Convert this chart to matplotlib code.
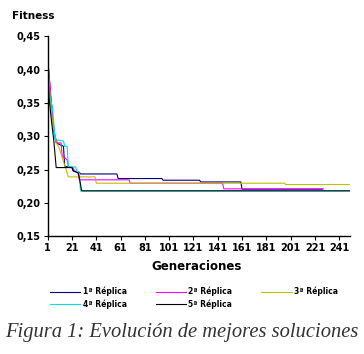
import matplotlib.pyplot as plt
from matplotlib.ticker import FuncFormatter

# generation at which each reading was taken, and the best fitness there
gen_r1 = [1, 2, 4, 6, 8, 14, 15, 21, 22, 27, 28, 58, 59, 95, 96, 126, 127, 160, 161, 227]
fit_r1 = [0.418, 0.395, 0.345, 0.31, 0.29, 0.285, 0.255, 0.253, 0.248, 0.246, 0.2434,
          0.2434, 0.2365, 0.2365, 0.234, 0.234, 0.2314, 0.2314, 0.2205, 0.2205]

gen_r2 = [1, 3, 5, 7, 9, 12, 13, 17, 18, 22, 23, 26, 27, 68, 69, 145, 146, 228]
fit_r2 = [0.415, 0.375, 0.33, 0.30, 0.29, 0.29, 0.27, 0.265, 0.255, 0.253, 0.248,
          0.246, 0.2346, 0.2346, 0.2295, 0.2295, 0.221, 0.221]

gen_r3 = [1, 3, 5, 8, 10, 14, 18, 40, 41, 196, 197, 250]
fit_r3 = [0.40, 0.36, 0.32, 0.29, 0.285, 0.262, 0.239, 0.239, 0.2295, 0.2295, 0.2275, 0.2275]

gen_r4 = [1, 3, 5, 7, 14, 15, 17, 18, 24, 25, 27, 28, 250]
fit_r4 = [0.41, 0.355, 0.345, 0.295, 0.293, 0.285, 0.285, 0.254, 0.254, 0.248, 0.245, 0.218, 0.218]

gen_r5 = [1, 2, 4, 6, 8, 21, 22, 26, 27, 29, 250]
fit_r5 = [0.41, 0.36, 0.325, 0.294, 0.253, 0.253, 0.248, 0.245, 0.238, 0.218, 0.218]

labels = ['1ª Réplica', '2ª Réplica', '3ª Réplica', '4ª Réplica', '5ª Réplica']
colors = ['#000080', '#FF00FF', '#C0C000', '#00E0E0', '#000000']
x_ticks = list(range(1, 242, 20))
y_ticks = [0.15, 0.20, 0.25, 0.30, 0.35, 0.40, 0.45]

fig = plt.figure(figsize=(3.64, 3.54), dpi=100)
ax = fig.add_axes([0.131, 0.333, 0.831, 0.564])

series = [(gen_r1, fit_r1), (gen_r2, fit_r2), (gen_r3, fit_r3),
          (gen_r4, fit_r4), (gen_r5, fit_r5)]
handles = []
for (g, f), lab, c in zip(series, labels, colors):
    h, = ax.plot(g, f, color=c, lw=0.8, label=lab)
    handles.append(h)

ax.set_xlim(1, 250)
ax.set_ylim(0.15, 0.45)
ax.set_xticks(x_ticks)
ax.set_yticks(y_ticks)
ax.yaxis.set_major_formatter(FuncFormatter(lambda v, p: f'{v:.2f}'.replace('.', ',')))
for s in ['top', 'right']:
    ax.spines[s].set_visible(False)
for s in ['left', 'bottom']:
    ax.spines[s].set_linewidth(1.0)
ax.tick_params(direction='out', length=3, width=0.8, labelsize=7, pad=2)
for t in ax.get_xticklabels() + ax.get_yticklabels():
    t.set_fontweight('bold')

fig.text(12 / 364, 1 - 16 / 354, 'Fitness', fontsize=7.5, fontweight='bold', va='center')
fig.text(197 / 364, 1 - 266 / 354, 'Generaciones', fontsize=8.5, fontweight='bold',
         ha='center', va='center')

# reorder so the legend fills row by row
order = [0, 3, 1, 4, 2]
fig.legend([handles[i] for i in order], [labels[i] for i in order],
           ncol=3, frameon=False, loc='center', bbox_to_anchor=(194 / 364, 1 - 298 / 354),
           prop={'weight': 'bold', 'size': 5.5}, handlelength=4,
           columnspacing=3.8, handletextpad=0.3, labelspacing=0.4)

fig.text(0.5, 1 - 333 / 354, 'Figura 1: Evolución de mejores soluciones',
         fontsize=14.8, style='italic', family='Liberation Serif', color='#333333',
         ha='center', va='center')

fig.savefig('out.png', dpi=100)
